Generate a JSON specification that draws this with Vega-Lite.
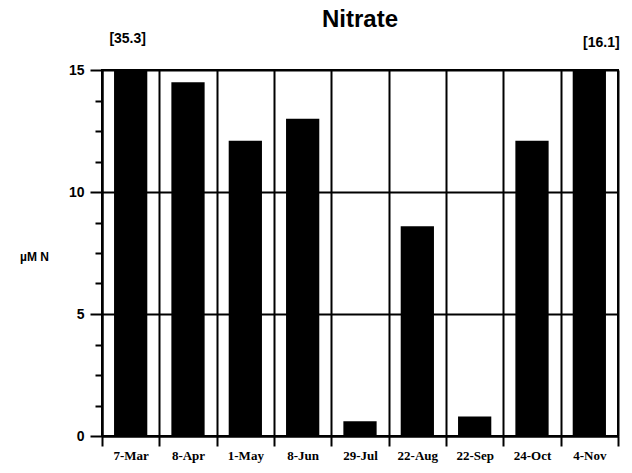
{
  "$schema": "https://vega.github.io/schema/vega-lite/v6.json",
  "width": 516,
  "height": 366,
  "autosize": "none",
  "padding": {"left": 102, "top": 70, "right": 14, "bottom": 37},
  "background": "white",
  "title": {
    "text": "Nitrate",
    "font": "Liberation Sans",
    "fontSize": 24,
    "fontWeight": "bold",
    "color": "black",
    "anchor": "middle",
    "offset": 0
  },
  "config": {
    "view": {"stroke": "black", "strokeWidth": 2},
    "axis": {"domainColor": "black", "tickColor": "black", "labelColor": "black", "titleColor": "black"}
  },
  "data": {
    "values": [
      {"date": "7-Mar", "nitrate": 35.3, "note": "[35.3]"},
      {"date": "8-Apr", "nitrate": 14.5, "note": ""},
      {"date": "1-May", "nitrate": 12.1, "note": ""},
      {"date": "8-Jun", "nitrate": 13.0, "note": ""},
      {"date": "29-Jul", "nitrate": 0.6, "note": ""},
      {"date": "22-Aug", "nitrate": 8.6, "note": ""},
      {"date": "22-Sep", "nitrate": 0.8, "note": ""},
      {"date": "24-Oct", "nitrate": 12.1, "note": ""},
      {"date": "4-Nov", "nitrate": 16.1, "note": "[16.1]"}
    ]
  },
  "encoding": {
    "x": {
      "field": "date",
      "type": "nominal",
      "sort": null,
      "scale": {"paddingInner": 0, "paddingOuter": 0},
      "axis": {
        "title": null,
        "labelAngle": 0,
        "labelFont": "Liberation Serif",
        "labelFontWeight": "bold",
        "labelFontSize": 13,
        "labelPadding": 3,
        "tickBand": "extent",
        "tickSize": 10,
        "tickWidth": 2,
        "domainWidth": 2,
        "grid": true,
        "gridColor": "black",
        "gridWidth": 2,
        "gridOpacity": 1
      }
    }
  },
  "layer": [
    {
      "mark": {"type": "bar", "color": "black", "clip": true, "width": {"band": 0.58}},
      "encoding": {
        "y": {
          "field": "nitrate",
          "type": "quantitative",
          "scale": {"domain": [0, 15], "nice": false, "zero": true},
          "axis": {
            "title": "µM N",
            "titleAngle": 0,
            "titleFont": "Liberation Sans",
            "titleFontWeight": "bold",
            "titleFontSize": 12,
            "titleAlign": "center",
            "titleBaseline": "middle",
            "titleX": -68,
            "titleY": 186,
            "values": [0, 1.25, 2.5, 3.75, 5, 6.25, 7.5, 8.75, 10, 11.25, 12.5, 13.75, 15],
            "tickCount": 13,
            "labelExpr": "datum.value % 5 === 0 ? datum.label : ''",
            "labelFont": "Liberation Sans",
            "labelFontWeight": "bold",
            "labelFontSize": 14,
            "labelPadding": 6,
            "labelOverlap": false,
            "tickSize": {"condition": {"test": "datum.value % 5 === 0", "value": 12}, "value": 7},
            "tickWidth": 2,
            "tickColor": "black",
            "domainWidth": 2,
            "grid": true,
            "gridColor": "black",
            "gridWidth": 2,
            "gridOpacity": {"condition": {"test": "datum.value % 5 === 0", "value": 1}, "value": 0}
          }
        }
      }
    },
    {
      "transform": [{"filter": "datum.date === '7-Mar'"}],
      "mark": {"type": "text", "font": "Liberation Sans", "fontWeight": "bold", "fontSize": 14, "color": "black", "baseline": "bottom", "dy": -24, "dx": -3},
      "encoding": {
        "y": {"datum": 15, "type": "quantitative"},
        "text": {"field": "note"}
      }
    },
    {
      "transform": [{"filter": "datum.date === '4-Nov'"}],
      "mark": {"type": "text", "font": "Liberation Sans", "fontWeight": "bold", "fontSize": 14, "color": "black", "baseline": "bottom", "dy": -20, "dx": 12},
      "encoding": {
        "y": {"datum": 15, "type": "quantitative"},
        "text": {"field": "note"}
      }
    }
  ]
}
